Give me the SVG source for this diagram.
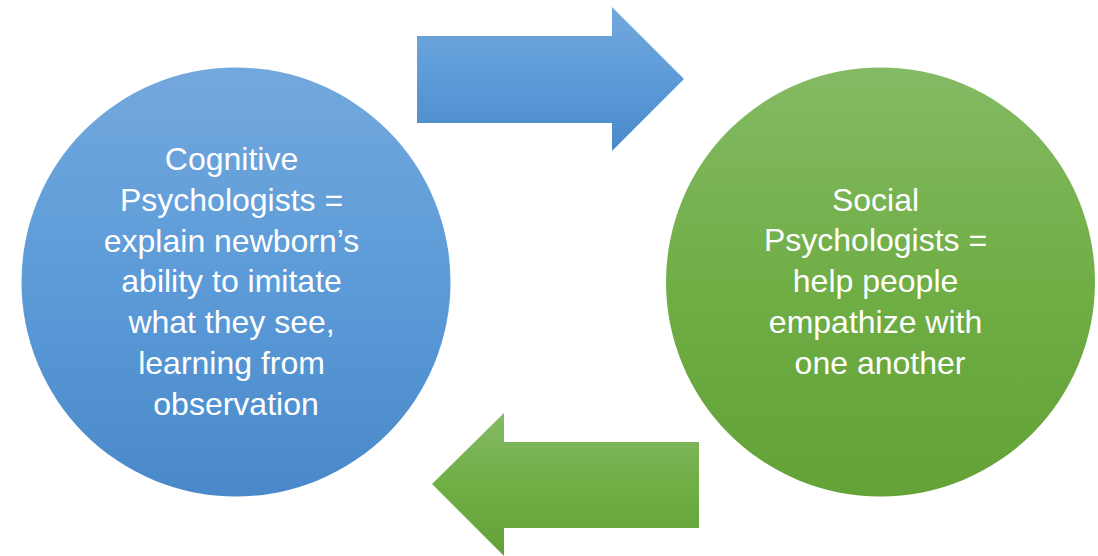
<svg xmlns="http://www.w3.org/2000/svg" width="1098" height="556" viewBox="0 0 1098 556">
  <defs>
    <linearGradient id="blueFill" x1="0" y1="0" x2="0" y2="1">
      <stop offset="0" stop-color="#73a8dd"/>
      <stop offset="0.5" stop-color="#5c9bd8"/>
      <stop offset="1" stop-color="#4a89c9"/>
    </linearGradient>
    <linearGradient id="greenFill" x1="0" y1="0" x2="0" y2="1">
      <stop offset="0" stop-color="#84ba64"/>
      <stop offset="0.5" stop-color="#70ae46"/>
      <stop offset="1" stop-color="#62a236"/>
    </linearGradient>
    <style>
      .label { font-family: "Liberation Sans", Arial, sans-serif; font-size: 32px; fill: #ffffff; text-anchor: middle; }
    </style>
  </defs>
  <rect width="1098" height="556" fill="#ffffff"/>

  <!-- cycle arrows between the two circles -->
  <g id="connectors">
    <polygon id="arrow-right" fill="url(#blueFill)" points="417,36 612,36 612,7 684,79 612,151 612,123 417,123"/>
    <polygon id="arrow-left" fill="url(#greenFill)" points="699,442 504,442 504,413 432,484 504,556 504,528 699,528"/>
  </g>

  <g id="cognitive">
    <circle cx="236" cy="282" r="214.5" fill="url(#blueFill)"/>
    <text class="label">
      <tspan x="236" y="170">Cognitive</tspan>
      <tspan x="236" y="210.8">Psychologists =</tspan>
      <tspan x="236" y="251.6">explain newborn’s</tspan>
      <tspan x="236" y="292.4">ability to imitate</tspan>
      <tspan x="236" y="333.2">what they see,</tspan>
      <tspan x="236" y="374">learning from</tspan>
      <tspan x="236" y="414.8">observation</tspan>
    </text>
  </g>

  <g id="social">
    <circle cx="880.5" cy="282" r="214.5" fill="url(#greenFill)"/>
    <text class="label">
      <tspan x="880" y="210.5">Social</tspan>
      <tspan x="880" y="251.3">Psychologists =</tspan>
      <tspan x="880" y="292.1">help people</tspan>
      <tspan x="880" y="332.9">empathize with</tspan>
      <tspan x="880" y="373.7">one another</tspan>
    </text>
  </g>
</svg>
